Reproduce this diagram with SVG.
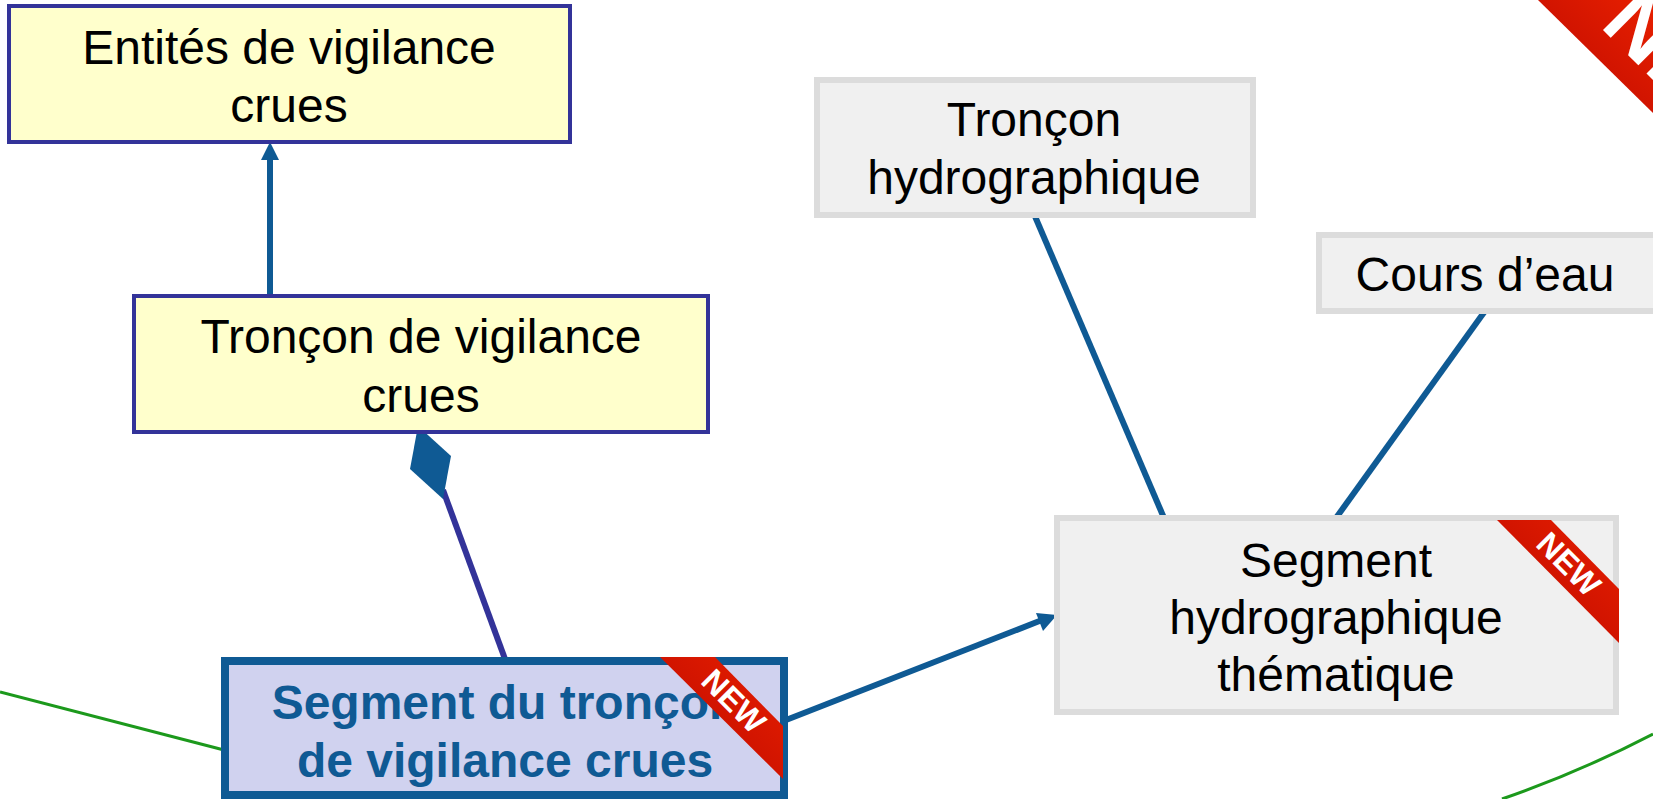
<svg xmlns="http://www.w3.org/2000/svg" width="1653" height="799" viewBox="0 0 1653 799">
<style>
text{font-family:"Liberation Sans",Arial,sans-serif;font-size:48px;fill:#000;text-anchor:middle}
.y{fill:#ffffcc;stroke:#333399;stroke-width:4}
.g{fill:#f0f0f0;stroke:#dcdcdc;stroke-width:6}
.b{fill:none;stroke:#0f5a94;stroke-width:6}
.p{fill:none;stroke:#333399;stroke-width:6}
.v{fill:none;stroke:#1c991c;stroke-width:3}
.h{fill:#0f5a94}
text.s{font-weight:bold;fill:#0f5a94}
text.n{font-weight:bold;fill:#fff;font-size:32px}
</style>
<defs>
<linearGradient id="r" x1="0" y1="1" x2="1" y2="0"><stop offset="0.3" stop-color="#c80f00"/><stop offset="1" stop-color="#e82000"/></linearGradient>
</defs>
<g id="connectors">
<path class="v" d="M0 692L224 750"/>
<path class="v" d="M1502 799Q1580 772 1653 734"/>
<path class="b" d="M270 295V158"/><path class="h" d="M270 142L279 160H261Z"/>
<path class="p" d="M443 490L505 659"/><path class="h" d="M418 426L451 456L443 499L410 469Z"/>
<path class="b" d="M786 720L1042 620"/><path class="h" d="M1057 615L1043 631L1036 613Z"/>
<path class="b" d="M1034 214L1164 518"/>
<path class="b" d="M1485 311L1336 518"/>
</g>
<g id="entites"><rect class="y" x="9" y="6" width="561" height="136"/><text x="289" y="64">Entités de vigilance</text><text x="289" y="122">crues</text></g>
<g id="troncon-vigilance"><rect class="y" x="134" y="296" width="574" height="136"/><text x="421" y="353">Tronçon de vigilance</text><text x="421" y="412">crues</text></g>
<g id="troncon-hydro"><rect class="g" x="817" y="80" width="436" height="135"/><text x="1034" y="136">Tronçon</text><text x="1034" y="194">hydrographique</text></g>
<g id="cours-eau"><rect class="g" x="1319" y="235" width="337" height="76"/><text x="1485" y="291">Cours d’eau</text></g>
<g id="segment-hydro"><rect class="g" x="1057" y="518" width="559" height="194"/><text x="1336" y="577">Segment</text><text x="1336" y="634">hydrographique</text><text x="1336" y="691">thématique</text>
<path d="M1497 520H1551L1619 589V643Z" fill="url(#r)"/><text class="n" transform="translate(1561 572) rotate(45)">NEW</text></g>
<g id="segment-troncon"><rect x="225" y="661" width="559" height="134" fill="#d0d2ef" stroke="#0f5a94" stroke-width="8"/><text class="s" x="505" y="719">Segment du tronçon</text><text class="s" x="505" y="777">de vigilance crues</text>
<path d="M660 657H715L783 726V779Z" fill="url(#r)"/><text class="n" transform="translate(726 709) rotate(45)">NEW</text></g>
<g id="ribbon-corner"><path d="M1538 0H1653V113Z" fill="url(#r)"/><text class="n" style="font-size:85px;text-anchor:start" transform="translate(1599 26) rotate(45)">NEW</text></g>
</svg>
